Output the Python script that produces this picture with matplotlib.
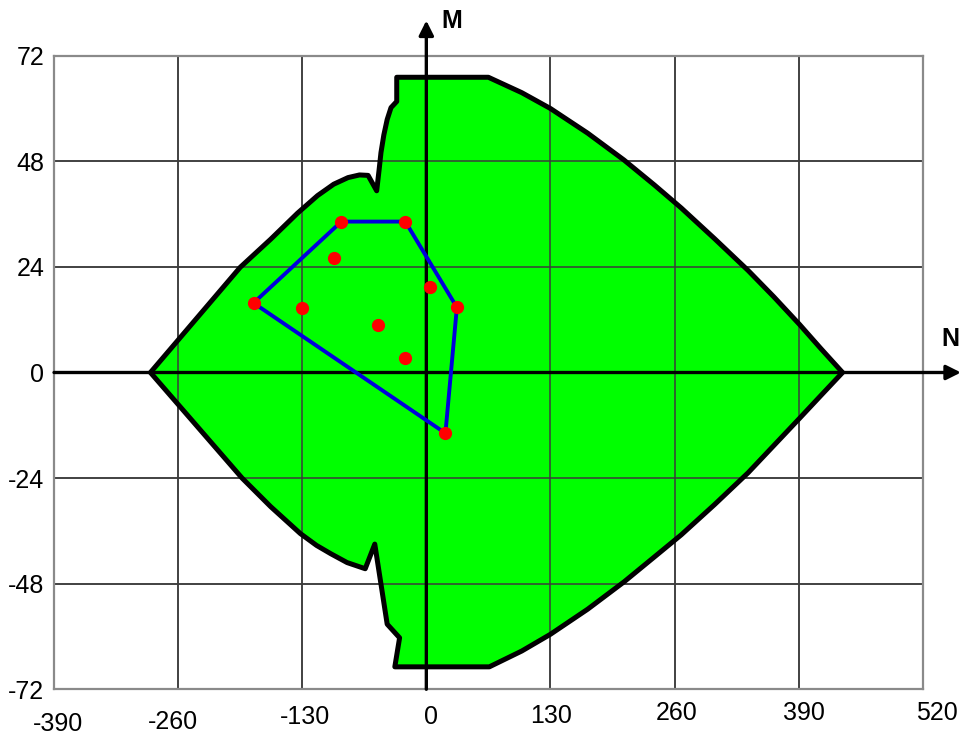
import matplotlib.pyplot as plt

plt.rcParams['font.family'] = ['Liberation Sans', 'DejaVu Sans']

# interaction region boundary (N, M), traced clockwise from the top-left corner
region_n = [-31, 65, 100, 130, 169, 207, 239, 267, 302, 337, 364, 391, 413, 436,
            413, 391, 364, 337, 302, 267, 239, 207, 169, 130, 100, 66,
            -33, -28, -41, -54, -64, -83, -100, -115, -132, -163, -193, -289,
            -195, -163, -135, -114, -97, -82, -70, -61, -52,
            -49.5, -47.5, -44.5, -41, -37, -31]
region_m = [67.1, 67.1, 63.6, 60.0, 54.4, 48.3, 42.6, 37.4, 30.4, 23.2, 17.2, 10.9, 5.5, 0.0,
            -5.3, -10.4, -16.6, -22.8, -30.0, -36.9, -41.9, -47.6, -53.8, -59.5, -63.3, -66.9,
            -66.9, -60.3, -57.2, -39.0, -44.6, -43.2, -41.2, -39.3, -36.6, -30.5, -24.0, 0.0,
            23.9, 30.3, 36.2, 40.2, 42.8, 44.3, 44.9, 44.8, 41.3,
            46.0, 50.0, 54.0, 57.5, 60.2, 61.6]

# load cases
case_n = [-89, -22, -97, 4, -181, -130, 32, -51, -22, 20]
case_m = [34.3, 34.3, 26.0, 19.5, 15.8, 14.6, 14.8, 10.8, 3.2, -13.8]

# convex hull of the load cases
hull_n = [-181, -89, -22, 32, 20, -181]
hull_m = [15.8, 34.3, 34.3, 14.8, -13.8, 15.8]

x_ticks = [-390, -260, -130, 0, 130, 260, 390, 520]
y_ticks = [-72, -48, -24, 0, 24, 48, 72]

# small pixel nudges for the N tick labels (dx, dy)
x_label_nudge = [(4, -35), (-5, -33), (3, -28), (5, -28), (1, -27), (2, -24), (5, -24), (14, -24)]


def main():
    fig = plt.figure(figsize=(9.61, 7.35), dpi=100)
    ax = fig.add_axes([0.0562, 0.0622, 0.9040, 0.8620])
    ax.set_xlim(-390, 520)
    ax.set_ylim(-72, 72)

    ax.set_xticks(x_ticks)
    ax.set_yticks(y_ticks)
    ax.set_xticklabels([])
    ax.set_yticklabels([str(v) for v in y_ticks], fontsize=18)
    ax.tick_params(length=0, pad=7)
    ax.grid(True, color='#3c3c3c', lw=1.1)
    ax.set_axisbelow(True)
    for s in ax.spines.values():
        s.set_color('#8a8a8a')
        s.set_linewidth(1.6)

    for v, (dx, dy) in zip(x_ticks, x_label_nudge):
        ax.annotate(str(v), xy=(v, -72), xytext=(dx * 0.72, dy * 0.72),
                    textcoords='offset points', ha='center', va='center',
                    fontsize=18, annotation_clip=False)

    ax.fill(region_n, region_m, facecolor='#00ff00', edgecolor='none', zorder=1)
    # redraw the grid on top of the fill
    for v in x_ticks[1:-1]:
        ax.axvline(v, color='#3c3c3c', lw=1.1, zorder=2)
    for v in y_ticks[1:-1]:
        ax.axhline(v, color='#3c3c3c', lw=1.1, zorder=2)
    ax.fill(region_n, region_m, facecolor='none', edgecolor='black', lw=3.6,
            joinstyle='round', zorder=3)

    # coordinate axes with arrows
    arrow = dict(arrowstyle='-|>', lw=2.4, color='black', mutation_scale=22,
                 shrinkA=0, shrinkB=0)
    ax.annotate('', xy=(560, 0), xytext=(-390, 0), arrowprops=arrow,
                annotation_clip=False, zorder=4)
    ax.annotate('', xy=(0, 80.0), xytext=(0, -72), arrowprops=arrow,
                annotation_clip=False, zorder=4)
    ax.text(27, 80.0, 'M', fontsize=18, fontweight='bold', ha='center', va='center')
    ax.text(549, 7.7, 'N', fontsize=18, fontweight='bold', ha='center', va='center')

    ax.plot(hull_n, hull_m, color='#0000dd', lw=2.8, zorder=5)
    ax.plot(case_n, case_m, 'o', color='#ff0000', markersize=8.5, zorder=6)

    fig.savefig('out.png', dpi=100)


if __name__ == '__main__':
    main()
